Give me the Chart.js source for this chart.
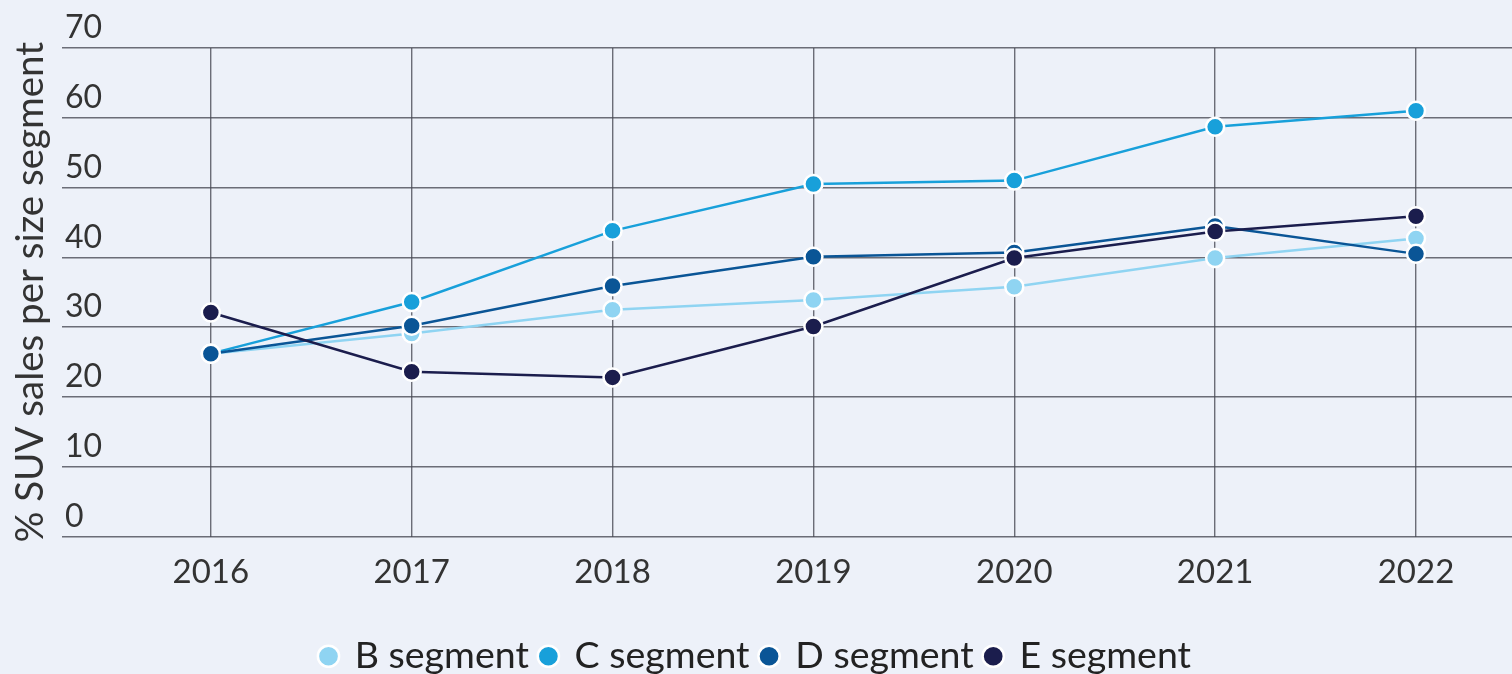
<!DOCTYPE html>
<html>
<head>
<meta charset="utf-8">
<script src="https://cdn.jsdelivr.net/npm/chart.js@4.4.1/dist/chart.umd.min.js"></script>
<style>
  html, body { margin: 0; padding: 0; background: #edf1f9; }
  #wrap { width: 1512px; height: 674px; position: relative; }
</style>
</head>
<body>
<div id="wrap"><canvas id="c" width="1512" height="674"></canvas></div>
<script>
const years = [2016, 2017, 2018, 2019, 2020, 2021, 2022];
const bSegment = [26.2, 29.1, 32.5, 33.9, 35.8, 39.9, 42.7];
const cSegment = [26.2, 33.6, 43.8, 50.5, 51.0, 58.7, 61.0];
const dSegment = [26.2, 30.2, 35.9, 40.1, 40.7, 44.5, 40.5];
const eSegment = [32.1, 23.6, 22.8, 30.1, 39.9, 43.7, 45.9];
const seriesNames = ['B segment', 'C segment', 'D segment', 'E segment'];
const yTicks = [0, 10, 20, 30, 40, 50, 60, 70];
const yTitle = '% SUV sales per size segment';

const colors = ['#8fd4f2', '#18a0da', '#0a5596', '#1b1d4d'];
const seriesData = [bSegment, cSegment, dSegment, eSegment];

const datasets = seriesData.map((vals, i) => ({
  label: seriesNames[i],
  data: vals.map((v, j) => ({ x: years[j], y: v })),
  borderColor: colors[i],
  backgroundColor: colors[i],
  pointBackgroundColor: colors[i],
  pointBorderColor: '#ffffff',
  pointBorderWidth: 2.5,
  pointRadius: 9,
  borderWidth: 2.5,
  tension: 0,
  order: 4 - i
}));

const font = "Lato, 'Open Sans', sans-serif";

new Chart(document.getElementById('c'), {
  type: 'line',
  data: { datasets },
  options: {
    responsive: false,
    animation: false,
    events: [],
    layout: { autoPadding: false, padding: { top: 48, left: 0, right: 0, bottom: -11 } },
    scales: {
      x: {
        type: 'linear',
        min: 2015.259,
        max: 2022.478,
        afterBuildTicks: (axis) => { axis.ticks = years.map(v => ({ value: v })); },
        afterFit: (axis) => { axis.height = 89; axis.paddingLeft = 0; axis.paddingRight = 0; },
        ticks: {
          stepSize: 1,
          includeBounds: false,
          callback: (v) => String(v),
          color: '#333333',
          font: { family: font, size: 33 },
          padding: 16,
          maxRotation: 0
        },
        grid: { color: 'rgba(70,72,82,0.78)', lineWidth: 1.4, drawTicks: false },
        border: { display: false }
      },
      y: {
        min: 0,
        max: 70,
        afterBuildTicks: (axis) => { axis.ticks = yTicks.map(v => ({ value: v })); },
        afterFit: (axis) => { axis.width = 62; },
        ticks: {
          mirror: true,
          labelOffset: -20,
          padding: 3,
          color: '#333333',
          font: { family: font, size: 32 }
        },
        grid: { color: 'rgba(70,72,82,0.78)', lineWidth: 1.4, drawTicks: false },
        border: { display: false },
        title: {
          display: true,
          text: yTitle,
          color: '#333333',
          font: { family: font, size: 38.5 },
          padding: { top: 7, bottom: 0 }
        }
      }
    },
    plugins: {
      legend: {
        position: 'bottom',
        labels: {
          usePointStyle: true,
          pointStyle: 'circle',
          boxWidth: 15,
          boxHeight: 15,
          padding: 12,
          color: '#222222',
          font: { family: font, size: 37.5 },
          sort: (a, b) => a.datasetIndex - b.datasetIndex
        }
      },
      tooltip: { enabled: false }
    }
  }
});
</script>
</body>
</html>
